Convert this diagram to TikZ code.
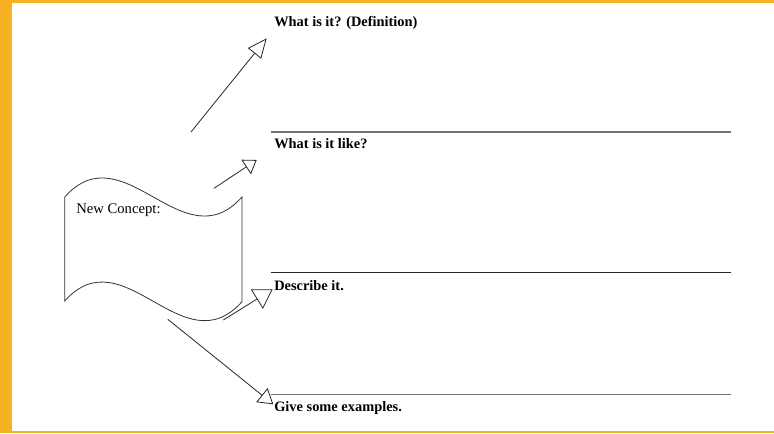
\documentclass[tikz,border=0pt]{standalone}
\usepackage{fontspec}
\setmainfont{Liberation Serif}
\usetikzlibrary{arrows.meta}
\definecolor{framecol}{RGB}{246,178,34}
\begin{document}
\begin{tikzpicture}[x=0.75pt,y=-0.75pt,
  lbl/.style={font=\bfseries\fontsize{10.8}{13}\selectfont, anchor=base west, inner sep=0pt},
  concepttext/.style={font=\fontsize{11}{13}\selectfont, anchor=base west, inner sep=0pt},
  rulea/.style={line width=0.9pt, draw=black!55},
  ruleb/.style={line width=0.8pt, draw=black!85},
  scrollline/.style={line width=0.6pt, draw=black!80},
  conn/.style={line width=0.6pt, draw=black!85}
]
\useasboundingbox (0,0) rectangle (774,433);
% orange frame
\fill[framecol] (0,0) rectangle (12,433);
\fill[framecol] (0,0) rectangle (774,2.7);
\fill[framecol] (0,430.7) rectangle (774,433);

% scroll shape
\draw[scrollline] (64.7,197) .. controls (123.8,131) and (182.8,263) .. (242,197)
  -- (242,301.7) .. controls (182.8,367.7) and (123.8,235) .. (64.7,301) -- cycle;
\node[concepttext] (concept) at (76,213.5) {New Concept:};

% rules
\draw[rulea] (270.5,132) -- (731,132);
\draw[ruleb] (270.5,272.3) -- (731,272.3);
\draw[rulea] (270.5,394.3) -- (731,394.3);

% labels
\node[lbl] (def) at (274,26.5) {What is it? (Definition)};
\node[lbl] (like) at (274,148) {What is it like?};
\node[lbl] (desc) at (274,290) {Describe it.};
\node[lbl] (ex) at (274,411.5) {Give some examples.};

% arrow ends
\coordinate (t1) at (191,132);
\coordinate (h1) at (266.7,38.3);
\coordinate (t2) at (214,188.3);
\coordinate (h2) at (256.7,160);
\coordinate (t3) at (223.3,320);
\coordinate (h3) at (272.7,289.3);
\coordinate (t4) at (167.8,319.3);
\coordinate (h4) at (273.3,404.3);

\draw[conn, -{Triangle[open,length=14.6pt,width=12.7pt]}] (t1) -- (h1);
\draw[conn, -{Triangle[open,length=9.5pt,width=13pt]}] (t2) -- (h2);
\draw[conn, -{Triangle[open,length=14pt,width=17pt]}] (t3) -- (h3);
\draw[conn, -{Triangle[open,length=11pt,width=13.5pt]}] (t4) -- (h4);
\end{tikzpicture}
\end{document}
